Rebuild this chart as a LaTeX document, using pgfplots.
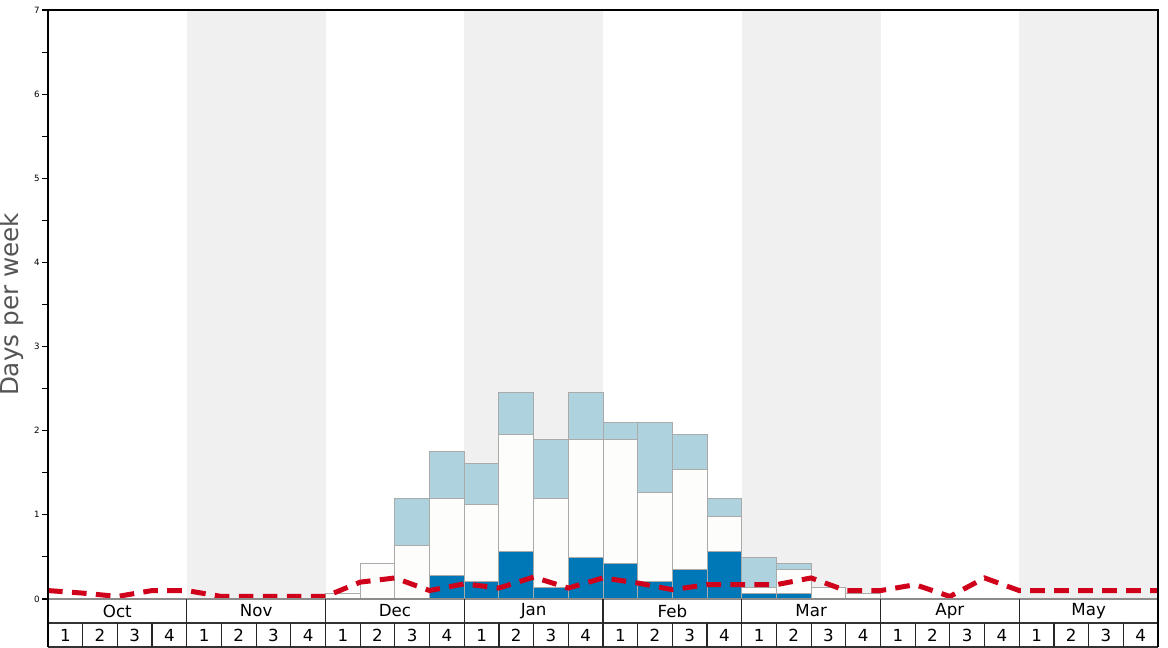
\documentclass[border=0pt]{standalone}
\usepackage{fontspec}
\setmainfont{DejaVu Sans}
\usepackage{pgfplots}
\pgfplotsset{compat=1.18}
\definecolor{bandgray}{HTML}{F0F0F0}
\definecolor{lightb}{HTML}{AED3DF}
\definecolor{darkb}{HTML}{0077B6}
\definecolor{offwhite}{HTML}{FDFDFB}
\definecolor{edge}{HTML}{AAAAAA}
\definecolor{snowred}{HTML}{D0021B}
\definecolor{labelgray}{HTML}{555555}

% cumulative tops per week (x = week centre)
\pgfplotstableread{
x     top
8.5   0.07
9.5   0.42
10.5  1.19
11.5  1.75
12.5  1.61
13.5  2.45
14.5  1.89
15.5  2.45
16.5  2.10
17.5  2.10
18.5  1.96
19.5  1.19
20.5  0.49
21.5  0.42
22.5  0.14
23.5  0.07
}\lighttops
\pgfplotstableread{
x     top
8.5   0.07
9.5   0.42
10.5  0.63
11.5  1.19
12.5  1.12
13.5  1.96
14.5  1.19
15.5  1.89
16.5  1.89
17.5  1.26
18.5  1.54
19.5  0.98
20.5  0.14
21.5  0.35
22.5  0.14
23.5  0.07
}\whitetops
\pgfplotstableread{
x     top
11.5  0.28
12.5  0.21
13.5  0.56
14.5  0.14
15.5  0.49
16.5  0.42
17.5  0.21
18.5  0.35
19.5  0.56
20.5  0.07
21.5  0.07
}\darktops
\pgfplotstableread{
x   y
0   0.10
1   0.07
2   0.03
3   0.10
4   0.10
5   0.03
6   0.03
7   0.03
8   0.03
9   0.20
10  0.25
11  0.10
12  0.18
13  0.13
14  0.26
15  0.13
16  0.25
17  0.19
18  0.11
19  0.17
20  0.17
21  0.17
22  0.25
23  0.10
24  0.10
25  0.17
26  0.03
27  0.25
28  0.10
29  0.10
30  0.10
31  0.10
32  0.10
}\avgline

\begin{document}
\begin{tikzpicture}
\begin{axis}[
    scale only axis,
    width=832.5pt, height=441.75pt,
    xmin=0, xmax=32, ymin=0, ymax=7,
    clip=false,
    axis line style={draw=none},
    xtick=\empty,
    ytick={0,...,7},
    minor ytick={0.5,1.5,...,6.5},
    ytick pos=left,
    tick align=outside,
    major tick length=4.5pt, minor tick length=4.5pt,
    tick style={black, line width=0.8pt},
    /pgf/number format/assume math mode=true,
    yticklabel style={font=\fontsize{6.5}{6.5}\selectfont, inner sep=1.5pt},
    ylabel={Days per week},
    ylabel style={font=\fontsize{18.5}{19}\selectfont, text=labelgray,
        at={(axis description cs:-0.0324,0.5)}, anchor=center},
    ybar, bar width=1, bar shift=0pt,
  ]
  % month bands
  \fill[bandgray] (axis cs:4,0) rectangle (axis cs:8,7);
  \fill[bandgray] (axis cs:12,0) rectangle (axis cs:16,7);
  \fill[bandgray] (axis cs:20,0) rectangle (axis cs:24,7);
  \fill[bandgray] (axis cs:28,0) rectangle (axis cs:32,7);

  \addplot[fill=lightb, draw=edge, line width=0.75pt] table[x=x, y=top] {\lighttops};
  \addplot[fill=offwhite, draw=edge, line width=0.75pt] table[x=x, y=top] {\whitetops};
  \addplot[fill=darkb, draw=edge, line width=0.75pt] table[x=x, y=top] {\darktops};
  \addplot[sharp plot, no marks, snowred, line width=3.75pt, dash pattern=on 11pt off 7pt] table[x=x, y=y] {\avgline};

  % frame and the two label rows
  \draw[black!45, line width=0.9pt] (axis cs:0,0) -- (axis cs:32,0);
  \draw[black!80, line width=1pt] ([yshift=-18pt]axis cs:0,0) -- ([yshift=-18pt]axis cs:32,0);
  \draw[black!80, line width=1pt] ([yshift=-36pt]axis cs:0,0) -- ([yshift=-36pt]axis cs:32,0);
  \pgfplotsinvokeforeach{1,...,31}{
    \draw[black!85, line width=0.9pt] ([yshift=-18pt]axis cs:#1,0) -- ([yshift=-36pt]axis cs:#1,0);
  }
  \pgfplotsinvokeforeach{4,8,...,28}{
    \draw[black!85, line width=0.9pt] (axis cs:#1,0) -- ([yshift=-18pt]axis cs:#1,0);
  }
  \draw[black, line width=1.5pt] ([yshift=-36pt]axis cs:0,0) -- (axis cs:0,7) -- (axis cs:32,7) -- ([yshift=-36pt]axis cs:32,0);
  \pgfplotsinvokeforeach{0,4,...,28}{
    \node[font=\fontsize{12.5}{12.5}\selectfont] at ([yshift=-27pt]axis cs:{#1+0.5},0) {1};
    \node[font=\fontsize{12.5}{12.5}\selectfont] at ([yshift=-27pt]axis cs:{#1+1.5},0) {2};
    \node[font=\fontsize{12.5}{12.5}\selectfont] at ([yshift=-27pt]axis cs:{#1+2.5},0) {3};
    \node[font=\fontsize{12.5}{12.5}\selectfont] at ([yshift=-27pt]axis cs:{#1+3.5},0) {4};
  }
  \node[font=\fontsize{12.5}{12.5}\selectfont] at ([yshift=-9pt]axis cs:2,0) {Oct};
  \node[font=\fontsize{12.5}{12.5}\selectfont] at ([yshift=-9pt]axis cs:6,0) {Nov};
  \node[font=\fontsize{12.5}{12.5}\selectfont] at ([yshift=-9pt]axis cs:10,0) {Dec};
  \node[font=\fontsize{12.5}{12.5}\selectfont] at ([yshift=-9pt]axis cs:14,0) {Jan};
  \node[font=\fontsize{12.5}{12.5}\selectfont] at ([yshift=-9pt]axis cs:18,0) {Feb};
  \node[font=\fontsize{12.5}{12.5}\selectfont] at ([yshift=-9pt]axis cs:22,0) {Mar};
  \node[font=\fontsize{12.5}{12.5}\selectfont] at ([yshift=-9pt]axis cs:26,0) {Apr};
  \node[font=\fontsize{12.5}{12.5}\selectfont] at ([yshift=-9pt]axis cs:30,0) {May};
\end{axis}
\pgfresetboundingbox
\path[use as bounding box] ([xshift=-36pt,yshift=-36.75pt]current axis.south west) rectangle ([xshift=7.5pt,yshift=7.5pt]current axis.north east);
\end{tikzpicture}
\end{document}
